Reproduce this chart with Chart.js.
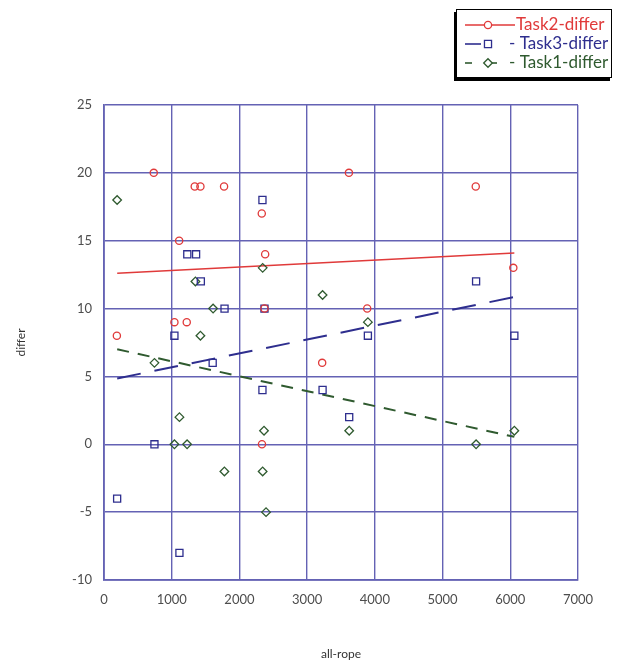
<!DOCTYPE html>
<html>
<head>
<meta charset="utf-8">
<style>
  html, body { margin: 0; padding: 0; background: #fff; }
  #wrap { width: 618px; height: 661px; position: relative; }
</style>
<script src="https://cdn.jsdelivr.net/npm/chart.js@4.4.1/dist/chart.umd.min.js"></script>
</head>
<body>
<div id="wrap"><canvas id="chart" width="618" height="661"></canvas></div>
<script>
// all-rope (x) / differ (y) per task
const task2X = [190, 735, 1040, 1110, 1222, 1340, 1424, 1773, 2330, 2333, 2370, 2380, 3222, 3617, 3887, 5490, 6045];
const task2Y = [8, 20, 9, 15, 9, 19, 19, 19, 17, 0, 10, 14, 6, 20, 10, 19, 13];

const task3X = [194, 745, 1040, 1114, 1230, 1360, 1430, 1605, 1780, 2340, 2340, 2370, 3228, 3621, 3897, 5495, 6060];
const task3Y = [-4, 0, 8, -8, 14, 14, 12, 6, 10, 18, 4, 10, 4, 2, 8, 12, 8];

const task1X = [194, 745, 1040, 1114, 1227, 1350, 1424, 1611, 1778, 2343, 2343, 2363, 2393, 3228, 3621, 3897, 5495, 6060];
const task1Y = [18, 6, 0, 2, 0, 12, 8, 10, -2, 13, -2, 1, -5, 11, 1, 9, 0, 1];

// fitted lines (end points)
const fitX = [195, 6060];
const task2Fit = [12.6, 14.1];
const task3Fit = [4.85, 10.85];
const task1Fit = [7.0, 0.55];

const xTicks = [0, 1000, 2000, 3000, 4000, 5000, 6000, 7000];
const yTicks = [-10, -5, 0, 5, 10, 15, 20, 25];

const RED = '#e03a3a';
const BLUE = '#2e2e8e';
const GREEN = '#2f5a2f';
const GRID = '#6462b4';
const FONT = 'Lato, "Open Sans", sans-serif';

function toPoints(xs, ys) {
    return xs.map(function (x, i) { return { x: x, y: ys[i] }; });
}

function scatterSet(label, xs, ys, color, style, radius) {
    return {
        type: 'scatter',
        label: label,
        data: toPoints(xs, ys),
        borderColor: color,
        backgroundColor: 'rgba(0,0,0,0)',
        pointStyle: style,
        pointRadius: radius,
        pointBorderWidth: 1.3,
        order: 1
    };
}

function fitSet(ys, color, dash, width) {
    return {
        type: 'line',
        label: '',
        data: toPoints(fitX, ys),
        borderColor: color,
        borderWidth: width,
        borderDash: dash,
        pointRadius: 0,
        fill: false,
        order: 2
    };
}

// boxed legend at top right, like the original
const boxLegend = {
    id: 'boxLegend',
    afterDraw: function (chart) {
        const ctx = chart.ctx;
        const bx = 456, by = 9, bw = 156, bh = 69;
        ctx.save();
        ctx.fillStyle = '#000';
        ctx.fillRect(bx - 2, by + 3, bw, bh);
        ctx.fillStyle = '#fff';
        ctx.fillRect(bx, by, bw, bh);
        ctx.strokeStyle = '#000';
        ctx.lineWidth = 1;
        ctx.strokeRect(bx + 0.5, by + 0.5, bw - 1, bh - 1);

        const rows = [
            { ds: 0, prefix: '', tx: 516, segs: [[465, 515]] },
            { ds: 1, prefix: '- ', tx: 509, segs: [[465, 481]] },
            { ds: 2, prefix: '- ', tx: 509, segs: [[465, 472], [491, 497]] }
        ];
        ctx.font = '17px ' + FONT;
        ctx.textBaseline = 'middle';
        rows.forEach(function (r, i) {
            const ds = chart.data.datasets[r.ds];
            const y = 25 + i * 19;
            ctx.strokeStyle = ds.borderColor;
            ctx.lineWidth = 1.6;
            r.segs.forEach(function (s) {
                ctx.beginPath();
                ctx.moveTo(s[0], y);
                ctx.lineTo(s[1], y);
                ctx.stroke();
            });
            ctx.fillStyle = '#fff';
            ctx.lineWidth = 1.3;
            Chart.helpers.drawPoint(ctx, {
                pointStyle: ds.pointStyle,
                rotation: 0,
                radius: ds.pointRadius,
                borderWidth: 1.3
            }, 488, y);
            ctx.fillStyle = ds.borderColor;
            ctx.fillText(r.prefix + ds.label, r.tx, y);
        });
        ctx.restore();
    }
};

function plainTick(v) { return String(v); }

const config = {
    data: {
        datasets: [
            scatterSet('Task2-differ', task2X, task2Y, RED, 'circle', 3.6),
            scatterSet('Task3-differ', task3X, task3Y, BLUE, 'rect', 5),
            scatterSet('Task1-differ', task1X, task1Y, GREEN, 'rectRot', 4.3),
            fitSet(task2Fit, RED, [], 1.6),
            fitSet(task3Fit, BLUE, [24, 14], 2),
            fitSet(task1Fit, GREEN, [12, 9], 2)
        ]
    },
    options: {
        responsive: false,
        animation: false,
        layout: { padding: { left: 0, top: 105, right: 40, bottom: 0 } },
        plugins: {
            legend: { display: false },
            tooltip: { enabled: false }
        },
        scales: {
            x: {
                type: 'linear',
                min: 0,
                max: 7000,
                afterBuildTicks: function (scale) {
                    scale.ticks = xTicks.map(function (v) { return { value: v }; });
                },
                afterFit: function (scale) { scale.height = 81; },
                grid: { color: GRID, lineWidth: 1.4, drawTicks: false },
                border: { color: GRID, width: 1.8 },
                ticks: {
                    padding: 12,
                    color: '#4d4d4d',
                    font: { family: FONT, size: 13 },
                    maxRotation: 0,
                    callback: plainTick
                },
                title: {
                    display: true,
                    text: 'all-rope',
                    color: '#333',
                    font: { family: FONT, size: 12 },
                    padding: { top: 1.5, bottom: 0 }
                }
            },
            y: {
                type: 'linear',
                min: -10,
                max: 25,
                afterBuildTicks: function (scale) {
                    scale.ticks = yTicks.map(function (v) { return { value: v }; });
                },
                afterFit: function (scale) { scale.width = 104; },
                grid: { color: GRID, lineWidth: 1.4, drawTicks: false },
                border: { color: GRID, width: 1.8 },
                ticks: {
                    padding: 12,
                    color: '#4d4d4d',
                    font: { family: FONT, size: 13 },
                    callback: plainTick
                },
                title: {
                    display: true,
                    text: 'differ',
                    color: '#333',
                    font: { family: FONT, size: 12 },
                    padding: { top: 14, bottom: 0 }
                }
            }
        }
    },
    plugins: [boxLegend]
};

new Chart(document.getElementById('chart').getContext('2d'), config);
</script>
</body>
</html>
